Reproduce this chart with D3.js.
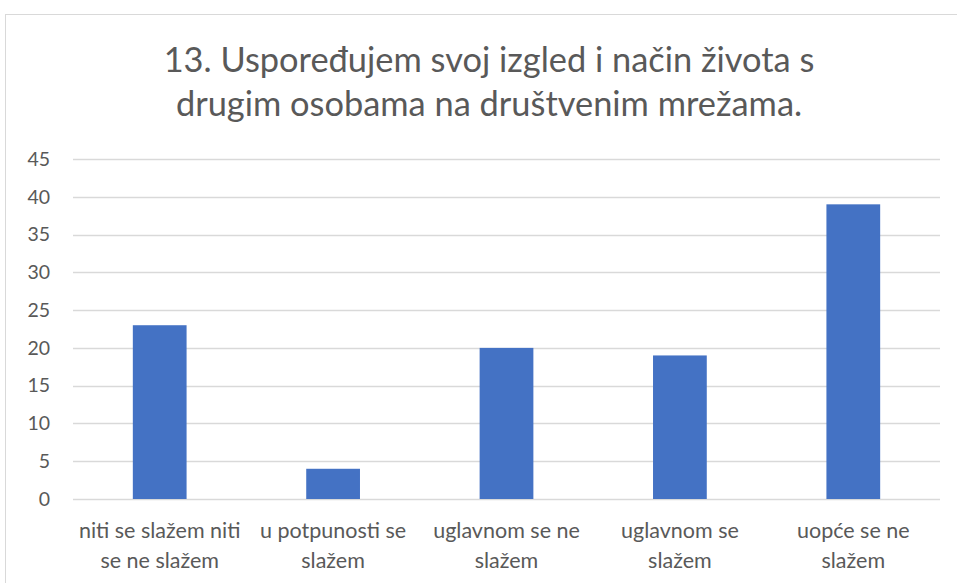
<!DOCTYPE html>
<html>
<head>
<meta charset="utf-8">
<script src="https://cdn.jsdelivr.net/npm/d3@7"></script>
<style>
  body { margin: 0; background: #fff; }
  svg { display: block; }
</style>
</head>
<body>
<svg width="957" height="583"></svg>
<script>
const categories = [
    ['niti se slažem niti', 'se ne slažem'],
    ['u potpunosti se', 'slažem'],
    ['uglavnom se ne', 'slažem'],
    ['uglavnom se', 'slažem'],
    ['uopće se ne', 'slažem']
];
const values = [23, 4, 20, 19, 39];
const yTicks = [0, 5, 10, 15, 20, 25, 30, 35, 40, 45];
const titleLines = ['13. Uspoređujem svoj izgled i način života s', 'drugim osobama na društvenim mrežama.'];

const svg = d3.select('svg');
const font = 'Lato, "Open Sans", sans-serif';

// okvir grafikona
svg.append('rect')
    .attr('x', 5.5).attr('y', 14.5)
    .attr('width', 980).attr('height', 600)
    .attr('fill', 'none').attr('stroke', '#d9d9d9');

const plotLeft = 73, plotRight = 940, plotTop = 159, plotBottom = 499;

const x = d3.scaleBand()
    .domain(d3.range(values.length))
    .range([plotLeft, plotRight])
    .paddingInner(0.69).paddingOuter(0.345);

const y = d3.scaleLinear().domain([0, 45]).range([plotBottom, plotTop]);

// naslov
svg.append('g').selectAll('text').data(titleLines)
    .join('text')
    .attr('x', 489).attr('y', (d, i) => 72 + i * 44)
    .attr('text-anchor', 'middle')
    .style('font-family', font).style('font-size', '34.4px')
    .style('fill', '#595959')
    .text(d => d);

// mreža
svg.append('g').selectAll('line').data(yTicks)
    .join('line')
    .attr('x1', plotLeft).attr('x2', plotRight)
    .attr('y1', d => Math.round(y(d)) + 0.5).attr('y2', d => Math.round(y(d)) + 0.5)
    .attr('stroke', '#d9d9d9').attr('stroke-width', 1.5);

// y os
const yAxis = svg.append('g')
    .attr('transform', `translate(${plotLeft - 23},0)`)
    .call(d3.axisLeft(y).tickValues(yTicks).tickSize(0).tickPadding(0));
yAxis.select('.domain').remove();
yAxis.selectAll('text')
    .style('font-family', font).style('font-size', '19.5px')
    .style('fill', '#595959');

// stupci
svg.append('g').selectAll('rect').data(values)
    .join('rect')
    .attr('x', (d, i) => x(i))
    .attr('y', d => y(d))
    .attr('width', x.bandwidth())
    .attr('height', d => y(0) - y(d))
    .attr('fill', '#4472c4');

// oznake kategorija
const labels = svg.append('g').selectAll('text').data(categories)
    .join('text')
    .attr('x', (d, i) => x(i) + x.bandwidth() / 2)
    .attr('y', 538)
    .attr('text-anchor', 'middle')
    .style('font-family', font).style('font-size', '21.5px')
    .style('fill', '#595959');
labels.selectAll('tspan').data(d => d)
    .join('tspan')
    .attr('x', function() { return this.parentNode.getAttribute('x'); })
    .attr('dy', (d, i) => i === 0 ? 0 : 30)
    .text(d => d);
</script>
</body>
</html>
